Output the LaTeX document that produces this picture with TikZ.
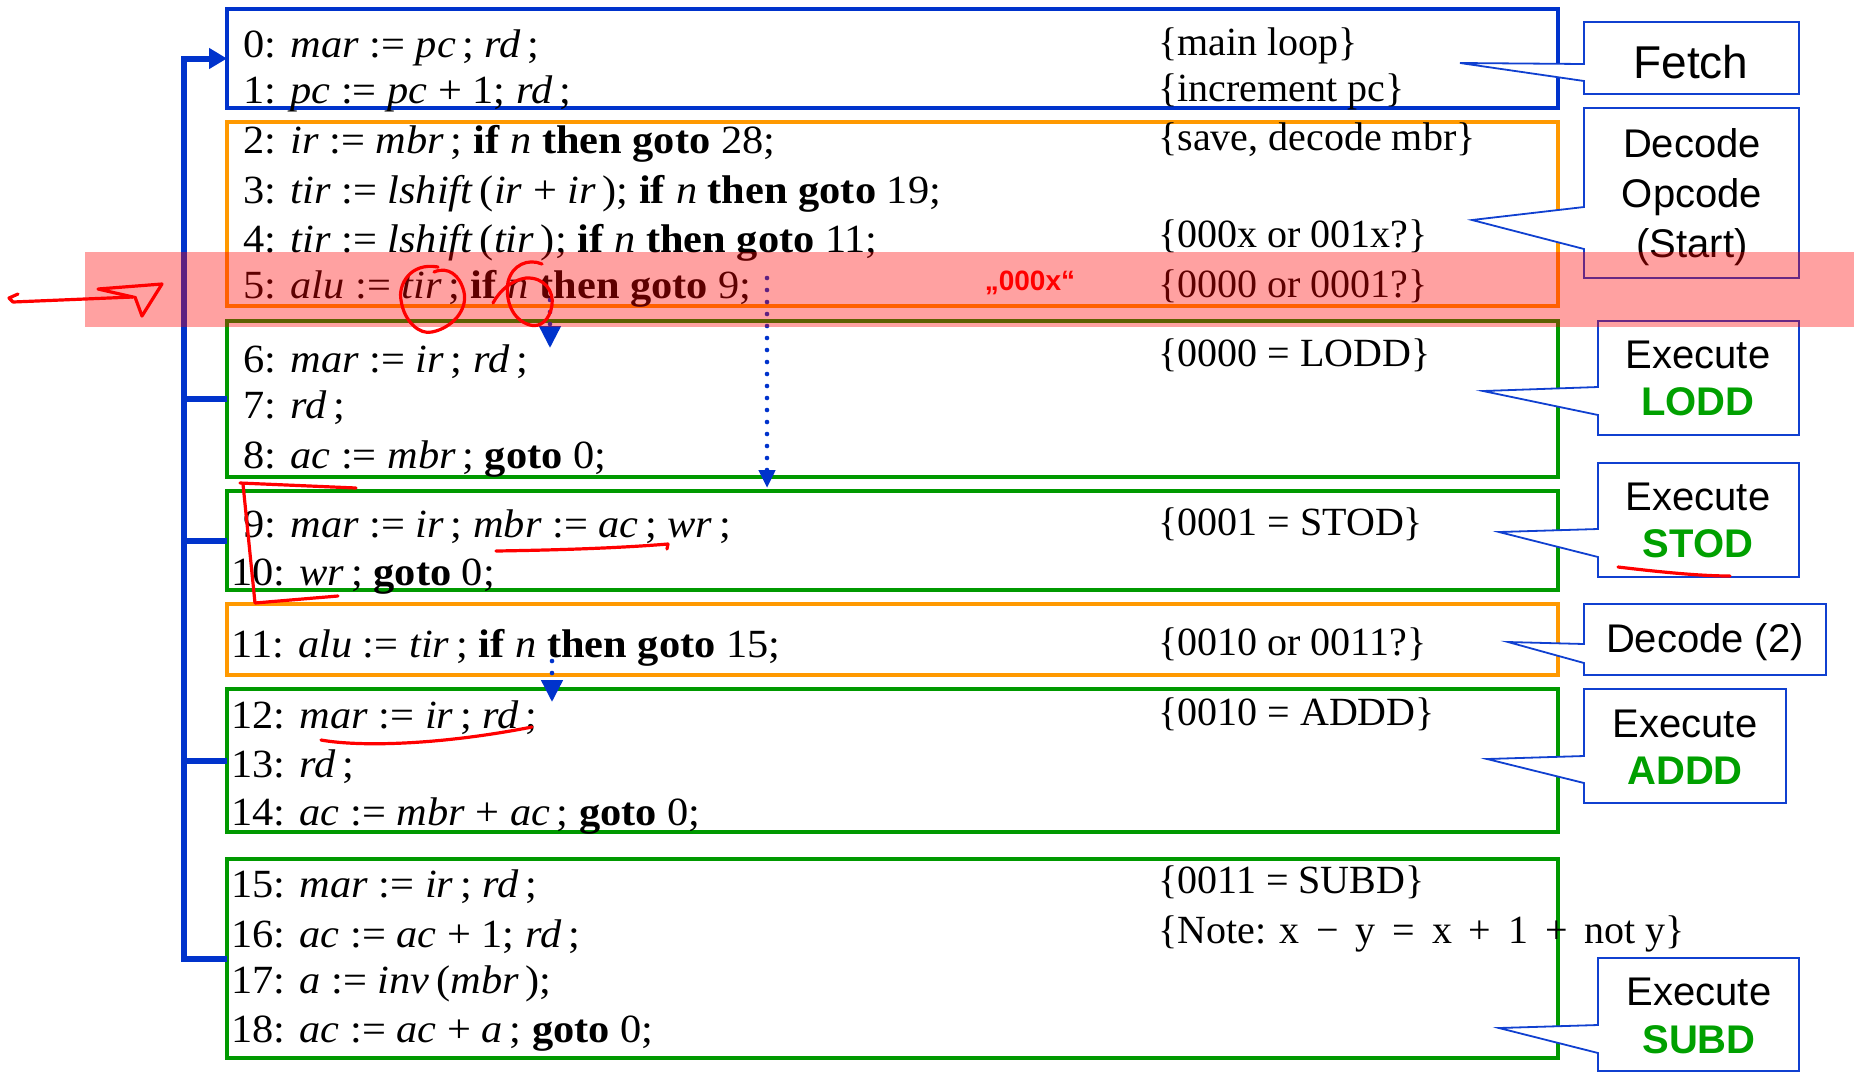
\documentclass[tikz,border=0pt]{standalone}
\usepackage{fontspec}
\setmainfont{Liberation Serif}
\newfontfamily\codefont[FakeStretch=1.06]{Liberation Serif}
\newfontfamily\sansf{Liberation Sans}
\usetikzlibrary{arrows.meta}
\definecolor{fblue}{RGB}{0,51,204}
\definecolor{cblue}{RGB}{16,64,208}
\definecolor{borange}{RGB}{255,153,0}
\definecolor{bgreen}{RGB}{0,153,0}
\definecolor{tgreen}{RGB}{0,160,0}
\newcommand{\mvar}[1]{\textit{#1}}
\newcommand{\mkey}[1]{\textbf{#1}}
\newcommand{\mop}[1]{\hspace{0.42em}#1\hspace{0.42em}}
\begin{document}
\begin{tikzpicture}[x=0.5pt,y=-0.5pt,
  code/.style={anchor=base west, inner sep=0pt, font=\codefont\fontsize{20}{24}\selectfont},
  cmt/.style={anchor=base west, inner sep=0pt, font=\fontsize{20}{24}\selectfont},
  frame/.style={draw, line width=1.8pt, inner sep=0pt, outer sep=0pt, minimum width=665.5pt},
  bracket/.style={draw=fblue, line width=3pt},
  dotarrow/.style={draw=fblue, line width=2.3pt, dash pattern=on 0pt off 6pt, line cap=round},
  callout/.style={draw=cblue, line width=0.9pt, fill=white, line join=miter},
  calltext/.style={anchor=base, inner sep=0pt, font=\sansf\fontsize{20}{24}\selectfont},
  callname/.style={calltext, text=tgreen, font=\sansf\bfseries\fontsize{20}{24}\selectfont},
  ann/.style={draw=red, line width=1.6pt, line cap=round, line join=round}
]
\useasboundingbox (0,0) rectangle (1854,1073);

% frames
\node[frame, draw=fblue, minimum height=49.5pt] (fetch) at (892.5,58.5) {};
\node[frame, draw=borange, minimum height=92pt] (dec1) at (892.5,214) {};
\node[frame, draw=bgreen, minimum height=78pt] (lodd) at (892.5,399) {};
\node[frame, draw=bgreen, minimum height=49.5pt] (stod) at (892.5,540.5) {};
\node[frame, draw=borange, minimum height=35.5pt] (dec2) at (892.5,639.5) {};
\node[frame, draw=bgreen, minimum height=71.5pt] (addd) at (892.5,760.5) {};
\node[frame, draw=bgreen, minimum height=99.5pt] (subd) at (892.5,958.5) {};

% code lines
\node[code] (l0) at (243,57) {0: \mvar{mar} := \mvar{pc}\,; \mvar{rd}\,;};
\node[code] (l1) at (243,103) {1: \mvar{pc} := \mvar{pc} + 1; \mvar{rd}\,;};
\node[code] (l2) at (243,153) {2: \mvar{ir} := \mvar{mbr}\,; \mkey{if} \mvar{n} \mkey{then goto} 28;};
\node[code] (l3) at (243,203) {3: \mvar{tir} := \mvar{lshift}\,(\mvar{ir} + \mvar{ir}\,); \mkey{if} \mvar{n} \mkey{then goto} 19;};
\node[code] (l4) at (243,252) {4: \mvar{tir} := \mvar{lshift}\,(\mvar{tir}\,); \mkey{if} \mvar{n} \mkey{then goto} 11;};
\node[code] (l5) at (243,298) {5: \mvar{alu} := \mvar{tir}\,; \mkey{if} \mvar{n} \mkey{then goto} 9;};
\node[code] (l6) at (243,372) {6: \mvar{mar} := \mvar{ir}\,; \mvar{rd}\,;};
\node[code] (l7) at (243,418) {7: \mvar{rd}\,;};
\node[code] (l8) at (243,468) {8: \mvar{ac} := \mvar{mbr}\,; \mkey{goto} 0;};
\node[code] (l9) at (243,537) {9: \mvar{mar} := \mvar{ir}\,; \mvar{mbr} := \mvar{ac}\,; \mvar{wr}\,;};
\node[code] (l10) at (231,585) {10: \mvar{wr}\,; \mkey{goto} 0;};
\node[code] (l11) at (231,657) {11: \mvar{alu} := \mvar{tir}\,; \mkey{if} \mvar{n} \mkey{then goto} 15;};
\node[code] (l12) at (231,728) {12: \mvar{mar} := \mvar{ir}\,; \mvar{rd}\,;};
\node[code] (l13) at (231,777) {13: \mvar{rd}\,;};
\node[code] (l14) at (231,825) {14: \mvar{ac} := \mvar{mbr} + \mvar{ac}\,; \mkey{goto} 0;};
\node[code] (l15) at (231,897) {15: \mvar{mar} := \mvar{ir}\,; \mvar{rd}\,;};
\node[code] (l16) at (231,947) {16: \mvar{ac} := \mvar{ac} + 1; \mvar{rd}\,;};
\node[code] (l17) at (231,993) {17: \mvar{a} := \mvar{inv}\,(\mvar{mbr}\,);};
\node[code] (l18) at (231,1042) {18: \mvar{ac} := \mvar{ac} + \mvar{a}\,; \mkey{goto} 0;};

% comments
\node[cmt] (c0) at (1158,55) {\{main loop\}};
\node[cmt] (c1) at (1158,101) {\{increment pc\}};
\node[cmt] (c2) at (1158,150) {\{save, decode mbr\}};
\node[cmt] (c4) at (1158,247) {\{000x or 001x?\}};
\node[cmt] (c5) at (1158,297) {\{0000 or 0001?\}};
\node[cmt] (c6) at (1158,366) {\{0000 = LODD\}};
\node[cmt] (c9) at (1158,535) {\{0001 = STOD\}};
\node[cmt] (c11) at (1158,655) {\{0010 or 0011?\}};
\node[cmt] (c12) at (1158,725) {\{0010 = ADDD\}};
\node[cmt] (c15) at (1158,893) {\{0011 = SUBD\}};
\node[cmt] (c16) at (1158,943) {\{Note: x\mop{−}y\mop{=}x\mop{+}1\mop{+}not y\}};

% left bracket
\coordinate (bk) at (184,0);
\draw[bracket, -{Triangle[length=9pt,width=10pt]}] (subd.west) -- (subd.west -| bk) |- (fetch.west);
\draw[bracket] (lodd.west) -- (lodd.west -| bk);
\draw[bracket] (stod.west) -- (stod.west -| bk);
\draw[bracket] (addd.west) -- (addd.west -| bk);

% dotted arrows
\coordinate (a1s) at (550,300);
\coordinate (a1e) at (550,348);
\coordinate (a2s) at (767,278);
\coordinate (a2e) at (767,488);
\coordinate (a3s) at (552,661);
\coordinate (a3e) at (552,702);
\draw[dotarrow, -{Triangle[length=11pt,width=10.5pt]}] (a1s) -- (a1e);
\draw[dotarrow, -{Triangle[length=9pt,width=8pt]}] (a2s) -- (a2e);
\draw[dotarrow, -{Triangle[length=11pt,width=10.5pt]}] (a3s) -- (a3e);

% callouts
\draw[callout] (1584,22) -- (1799,22) -- (1799,94) -- (1584,94) -- (1584,81) -- (1460,63) -- (1584,64) -- cycle;
\draw[callout] (1584,108) -- (1799,108) -- (1799,278) -- (1584,278) -- (1584,249) -- (1472,220) -- (1584,207) -- cycle;
\draw[callout] (1598,321) -- (1799,321) -- (1799,435) -- (1598,435) -- (1598,415) -- (1483,391) -- (1598,387) -- cycle;
\draw[callout] (1598,463) -- (1799,463) -- (1799,577) -- (1598,577) -- (1598,557) -- (1499,532) -- (1598,529) -- cycle;
\draw[callout] (1584,604) -- (1826,604) -- (1826,675) -- (1584,675) -- (1584,663) -- (1508,642) -- (1584,644) -- cycle;
\draw[callout] (1584,689) -- (1786,689) -- (1786,803) -- (1584,803) -- (1584,783) -- (1487,759) -- (1584,756) -- cycle;
\draw[callout] (1598,958) -- (1799,958) -- (1799,1071) -- (1598,1071) -- (1598,1053) -- (1499,1028) -- (1598,1025) -- cycle;

\node[calltext, font=\sansf\fontsize{23}{27}\selectfont] (tfetch) at (1691,78) {Fetch};
\node[calltext] (tdec) at (1692,157) {Decode};
\node[calltext] (topc) at (1692,207) {Opcode};
\node[calltext] (tstart) at (1692,257) {(Start)};
\node[calltext] (tex1) at (1698,368) {Execute};
\node[callname] (tlodd) at (1698,415) {LODD};
\node[calltext] (tex2) at (1698,510) {Execute};
\node[callname] (tstod) at (1698,557) {STOD};
\node[calltext] (tdec2) at (1705,652) {Decode (2)};
\node[calltext] (tex3) at (1685,737) {Execute};
\node[callname] (taddd) at (1685,784) {ADDD};
\node[calltext] (tex4) at (1699,1005) {Execute};
\node[callname] (tsubd) at (1699,1053) {SUBD};

% red highlight band
\fill[red, fill opacity=0.37] (85,252) rectangle (1854,327);
\node[anchor=base, inner sep=0pt, text=red, font=\sansf\bfseries\fontsize{14}{16}\selectfont] (q000x) at (1030,290) {„000x“};

% red hand annotations
\draw[ann] (18,294) -- (9,298) -- (13,302) -- (133,297);
\draw[ann] (133,297) -- (98,289) -- (162,284) -- (142,316) -- (135,297);
\draw[ann] (438,267) .. controls (410,262) and (398,285) .. (401,300) .. controls (404,322) and (420,335) .. (432,332) .. controls (452,328) and (468,310) .. (464,292) .. controls (460,275) and (448,266) .. (434,272);
\draw[ann] (493,303) .. controls (500,290) and (512,280) .. (526,278) .. controls (545,277) and (554,292) .. (552,305) .. controls (550,320) and (540,328) .. (530,325) .. controls (512,320) and (505,300) .. (508,282) .. controls (512,265) and (528,258) .. (542,264);
\draw[ann] (240,483) -- (356,488);
\draw[ann] (243,484) -- (255,603) -- (338,596);
\draw[ann] (496,551) .. controls (560,550) and (620,548) .. (668,544) -- (667,549);
\draw[ann] (321,740) .. controls (360,747) and (440,745) .. (532,727);
\draw[ann] (1618,567) .. controls (1660,572) and (1700,576) .. (1730,576);
\end{tikzpicture}
\end{document}
